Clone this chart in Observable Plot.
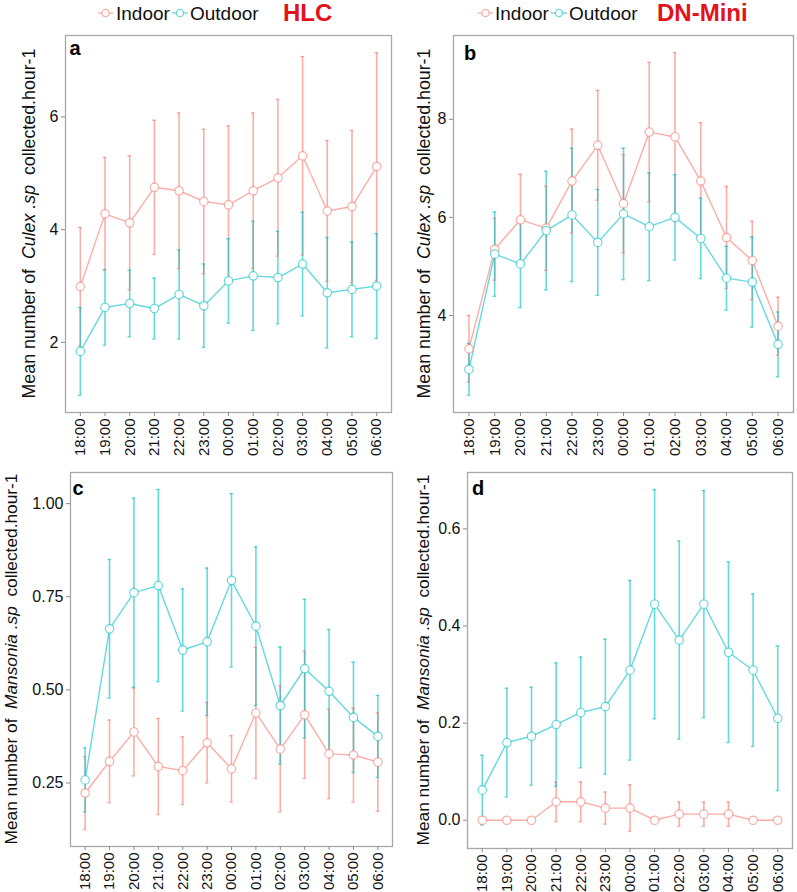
<!DOCTYPE html>
<html>
<head>
<meta charset="utf-8">
<script src="https://cdn.jsdelivr.net/npm/d3@7"></script>
<script src="https://cdn.jsdelivr.net/npm/@observablehq/plot@0.6"></script>
<style>
  body { margin: 0; background: #fff; font-family: "Liberation Sans", Arial, sans-serif; }
  #root { position: relative; width: 797px; height: 892px; overflow: hidden; background: #fff; }
  .panel { position: absolute; }
  #legend { position: absolute; left: 0; top: 0; }
</style>
</head>
<body>
<div id="root"></div>
<script>
// ---------------- data ----------------
const hours = ["18:00","19:00","20:00","21:00","22:00","23:00","00:00","01:00","02:00","03:00","04:00","05:00","06:00"];
const seriesNames = ["Indoor", "Outdoor"];

// (a) HLC – Culex
const hlcCulexIndoorMean  = [2.99,4.28,4.12,4.75,4.69,4.50,4.44,4.69,4.92,5.31,4.33,4.41,5.12];
const hlcCulexIndoorErr   = [1.05,1.00,1.19,1.19,1.38,1.28,1.40,1.38,1.39,1.76,1.25,1.35,2.02];
const hlcCulexOutdoorMean = [1.84,2.62,2.69,2.60,2.85,2.65,3.09,3.18,3.15,3.39,2.88,2.94,3.00];
const hlcCulexOutdoorErr  = [0.78,0.67,0.59,0.54,0.79,0.74,0.75,0.97,0.82,0.92,0.98,0.84,0.93];

// (b) DN-Mini – Culex
const dnCulexIndoorMean  = [3.32,5.35,5.95,5.78,6.74,7.47,6.28,7.74,7.64,6.74,5.59,5.12,3.78];
const dnCulexIndoorErr   = [0.68,0.63,0.93,0.86,1.06,1.12,1.00,1.42,1.72,1.19,1.04,0.80,0.59];
const dnCulexOutdoorMean = [2.90,5.25,5.05,5.73,6.05,5.49,6.07,5.81,6.00,5.57,4.76,4.68,3.41];
const dnCulexOutdoorErr  = [0.53,0.86,0.89,1.21,1.36,1.08,1.34,1.10,0.87,0.82,0.65,0.92,0.66];

// (c) HLC – Mansonia
const hlcMansIndoorMean  = [0.223,0.308,0.387,0.294,0.283,0.358,0.288,0.438,0.341,0.433,0.328,0.325,0.306];
const hlcMansIndoorErr   = [0.098,0.111,0.118,0.129,0.091,0.108,0.089,0.176,0.169,0.171,0.120,0.126,0.132];
const hlcMansOutdoorMean = [0.258,0.664,0.761,0.780,0.607,0.629,0.794,0.671,0.458,0.557,0.496,0.426,0.375];
const hlcMansOutdoorErr  = [0.086,0.186,0.254,0.258,0.164,0.198,0.233,0.213,0.157,0.186,0.166,0.148,0.110];

// (d) DN-Mini – Mansonia
const dnMansIndoorMean  = [0,0,0,0.038,0.038,0.025,0.025,0,0.0125,0.0125,0.0125,0,0];
const dnMansIndoorErr   = [0,0,0,0.041,0.041,0.033,0.048,0,0.025,0.025,0.025,0,0];
const dnMansOutdoorMean = [0.062,0.160,0.173,0.197,0.222,0.234,0.309,0.445,0.371,0.445,0.346,0.309,0.210];
const dnMansOutdoorErr  = [0.072,0.112,0.101,0.127,0.114,0.139,0.185,0.236,0.204,0.234,0.186,0.157,0.149];

const yTicksA = [2, 4, 6];
const yTicksB = [4, 6, 8];
const yTicksC = [0.25, 0.50, 0.75, 1.00];
const yTicksD = [0.0, 0.2, 0.4, 0.6];

const legendTitles = ["HLC", "DN-Mini"];
const panelLetters = ["a", "b", "c", "d"];
const genera = ["Culex", "Mansonia"];

// ---------------- styling ----------------
const colors = ["#F8766D", "#00BFC4"];
const alpha = 0.6;
const FONT = '"Liberation Sans", Arial, sans-serif';

const root = document.getElementById("root");

function rowsOf(im, ie, om, oe) {
  const rows = [];
  hours.forEach((h, i) => rows.push({i, series: "Indoor", m: im[i], e: ie[i]}));
  hours.forEach((h, i) => rows.push({i, series: "Outdoor", m: om[i], e: oe[i]}));
  return rows;
}

function makePanel(cfg) {
  const rows = rowsOf(cfg.im, cfg.ie, cfg.om, cfg.oe);
  const lo = d3.min(rows, d => d.m - d.e), hi = d3.max(rows, d => d.m + d.e);
  const pad = (hi - lo) * 0.05;
  const bars = rows.filter(d => d.e > 0);
  const cap = 0.07;
  const common = {stroke: "series", strokeOpacity: alpha};
  const svg = Plot.plot({
    width: cfg.width, height: cfg.height,
    marginLeft: cfg.ml, marginRight: cfg.mr, marginTop: cfg.mt, marginBottom: cfg.mb,
    style: {fontFamily: FONT, fontSize: "15px", background: "transparent", color: "#111", overflow: "visible"},
    x: {domain: [-0.6, 12.6]},
    y: {domain: [lo - pad, hi + pad]},
    color: {domain: seriesNames, range: colors},
    marks: [
      Plot.ruleX(bars, {x: "i", y1: d => d.m - d.e, y2: d => d.m + d.e, ...common, strokeWidth: 1.6}),
      Plot.ruleY(bars, {y: d => d.m + d.e, x1: d => d.i - cap, x2: d => d.i + cap, ...common, strokeWidth: 1.4}),
      Plot.ruleY(bars, {y: d => d.m - d.e, x1: d => d.i - cap, x2: d => d.i + cap, ...common, strokeWidth: 1.4}),
      Plot.line(rows, {x: "i", y: "m", z: "series", ...common, strokeWidth: 1.4}),
      Plot.dot(rows, {x: "i", y: "m", ...common, fill: "white", fillOpacity: 1, r: 4.2, strokeWidth: 1.2}),
      Plot.frame({stroke: "#a8a8a8", strokeWidth: 1.3}),
      Plot.axisX({ticks: d3.range(hours.length), tickFormat: i => hours[i], tickRotate: -90,
                  tickSize: 4, tickPadding: 2, stroke: "#8c8c8c", fill: "#111", fontSize: 15, label: null}),
      Plot.axisY({ticks: cfg.yTicks, tickFormat: cfg.yFormat, tickSize: 4, tickPadding: 3,
                  stroke: "#8c8c8c", fill: "#111", fontSize: 16, label: null})
    ]
  });
  svg.classList.add("panel");
  svg.style.left = cfg.left + "px";
  svg.style.top = cfg.top + "px";
  svg.style.position = "absolute";
  const s = d3.select(svg);
  // y-axis label with italic genus
  const cy = cfg.mt + (cfg.height - cfg.mt - cfg.mb) / 2;
  const t = s.append("text")
    .attr("transform", `translate(${cfg.labelX},${cy}) rotate(-90)`)
    .attr("text-anchor", "middle")
    .attr("font-family", FONT)
    .attr("font-size", cfg.labelSize)
    .attr("fill", "#111")
    .style("white-space", "pre");
  t.append("tspan").text("Mean number of  ");
  t.append("tspan").attr("font-style", "italic").text(cfg.genus + " .sp");
  t.append("tspan").text("  collected.hour-1");
  // panel letter
  s.append("text")
    .attr("x", cfg.letterX).attr("y", cfg.letterY)
    .attr("font-family", FONT).attr("font-weight", "bold").attr("font-size", 20)
    .attr("fill", "#000")
    .text(cfg.letter);
  root.appendChild(svg);
}

makePanel({left: 0, top: 30, width: 400, height: 430, ml: 65, mr: 9, mt: 5, mb: 48,
  im: hlcCulexIndoorMean, ie: hlcCulexIndoorErr, om: hlcCulexOutdoorMean, oe: hlcCulexOutdoorErr,
  yTicks: yTicksA, yFormat: d3.format("d"), genus: genera[0], letter: panelLetters[0],
  labelX: 35, labelSize: 17.8, letterX: 75, letterY: 25});
makePanel({left: 400, top: 30, width: 397, height: 430, ml: 53, mr: 4, mt: 5, mb: 48,
  im: dnCulexIndoorMean, ie: dnCulexIndoorErr, om: dnCulexOutdoorMean, oe: dnCulexOutdoorErr,
  yTicks: yTicksB, yFormat: d3.format("d"), genus: genera[0], letter: panelLetters[1],
  labelX: 30, labelSize: 17.8, letterX: 70, letterY: 30});
makePanel({left: 0, top: 460, width: 400, height: 432, ml: 70, mr: 8, mt: 12, mb: 46,
  im: hlcMansIndoorMean, ie: hlcMansIndoorErr, om: hlcMansOutdoorMean, oe: hlcMansOutdoorErr,
  yTicks: yTicksC, yFormat: d3.format(".2f"), genus: genera[1], letter: panelLetters[2],
  labelX: 17, labelSize: 17.3, letterX: 78, letterY: 35});
makePanel({left: 400, top: 460, width: 397, height: 432, ml: 67, mr: 5, mt: 12, mb: 44,
  im: dnMansIndoorMean, ie: dnMansIndoorErr, om: dnMansOutdoorMean, oe: dnMansOutdoorErr,
  yTicks: yTicksD, yFormat: d3.format(".1f"), genus: genera[1], letter: panelLetters[3],
  labelX: 29, labelSize: 17.3, letterX: 78, letterY: 35});

// ---------------- legends ----------------
const lg = d3.select(root).append("svg").attr("id", "legend")
  .attr("width", 797).attr("height", 30)
  .style("position", "absolute").style("left", "0px").style("top", "0px");
function legend(keys, title) {
  keys.forEach((k, j) => {
    lg.append("line").attr("x1", k.x0).attr("x2", k.x1).attr("y1", 13).attr("y2", 13)
      .attr("stroke", colors[j]).attr("stroke-opacity", alpha).attr("stroke-width", 1.3);
    lg.append("circle").attr("cx", k.cx).attr("cy", 13).attr("r", 3.6)
      .attr("fill", "white").attr("stroke", colors[j]).attr("stroke-opacity", alpha).attr("stroke-width", 1.2);
    lg.append("text").attr("x", k.textX).attr("y", 20).attr("font-family", FONT)
      .attr("font-size", 19).attr("fill", "#111").text(seriesNames[j]);
  });
  lg.append("text").attr("x", title.x).attr("y", 21).attr("font-family", FONT)
    .attr("font-size", 24).attr("font-weight", "bold").attr("fill", "#E3121B").text(title.text);
}
legend([{x0: 98, x1: 113, cx: 105.5, textX: 116}, {x0: 172, x1: 188, cx: 180, textX: 190}],
       {x: 283, text: legendTitles[0]});
legend([{x0: 478, x1: 493, cx: 485.5, textX: 495}, {x0: 551, x1: 567, cx: 559, textX: 569}],
       {x: 657, text: legendTitles[1]});
</script>
</body>
</html>
